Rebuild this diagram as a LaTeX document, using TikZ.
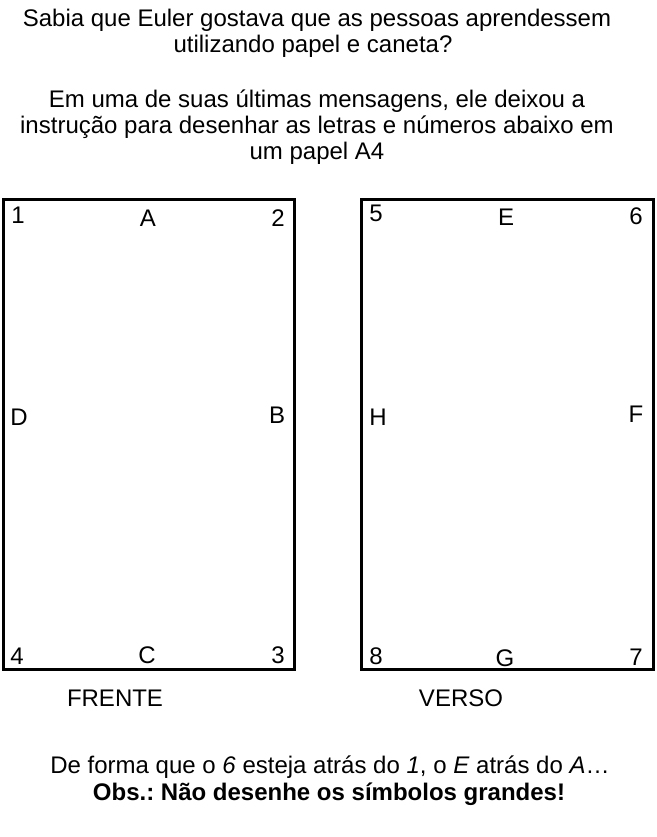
\documentclass[tikz,border=0pt]{standalone}
\usepackage{fontspec}
\setmainfont{Liberation Sans}
\frenchspacing
\begin{document}
\begin{tikzpicture}[x=1pt,y=-1pt,
  txt/.style={inner sep=0pt,anchor=base,font=\fontsize{24}{27}\selectfont},
  sheet/.style={draw,line width=3pt}]
\useasboundingbox (0,0) rectangle (656,837);
\node[txt] (intro1a) at (317,27) {Sabia que Euler gostava que as pessoas aprendessem};
\node[txt] (intro1b) at (313,53) {utilizando papel e caneta?};
\node[txt] (intro2a) at (317,108) {Em uma de suas últimas mensagens, ele deixou a};
\node[txt] (intro2b) at (317,134) {instrução para desenhar as letras e números abaixo em};
\node[txt] (intro2c) at (317,160) {um papel A4};
\draw[sheet] (3.5,199) rectangle (294,669.5);
\draw[sheet] (361.5,199) rectangle (653.5,669.5);
% front
\node[txt] (n1) at (18,223) {1};
\node[txt] (lA) at (148,226) {A};
\node[txt] (n2) at (278,226) {2};
\node[txt] (lD) at (19,425) {D};
\node[txt] (lB) at (277,423) {B};
\node[txt] (n4) at (17,664) {4};
\node[txt] (lC) at (147,663) {C};
\node[txt] (n3) at (278,663) {3};
% back
\node[txt] (n5) at (376,221) {5};
\node[txt] (lE) at (506,225) {E};
\node[txt] (n6) at (636,224) {6};
\node[txt] (lH) at (378,425) {H};
\node[txt] (lF) at (636,422) {F};
\node[txt] (n8) at (376,664) {8};
\node[txt] (lG) at (505,666) {G};
\node[txt] (n7) at (636,665) {7};
\node[txt] (frente) at (115,706) {FRENTE};
\node[txt] (verso) at (461,706) {VERSO};
\node[txt] (outro1) at (330,773) {De forma que o \textit{6} esteja atrás do \textit{1}, o \textit{E} atrás do \textit{A}…};
\node[txt] (outro2) at (329,800) {\textbf{Obs.: Não desenhe os símbolos grandes!}};
\end{tikzpicture}
\end{document}
